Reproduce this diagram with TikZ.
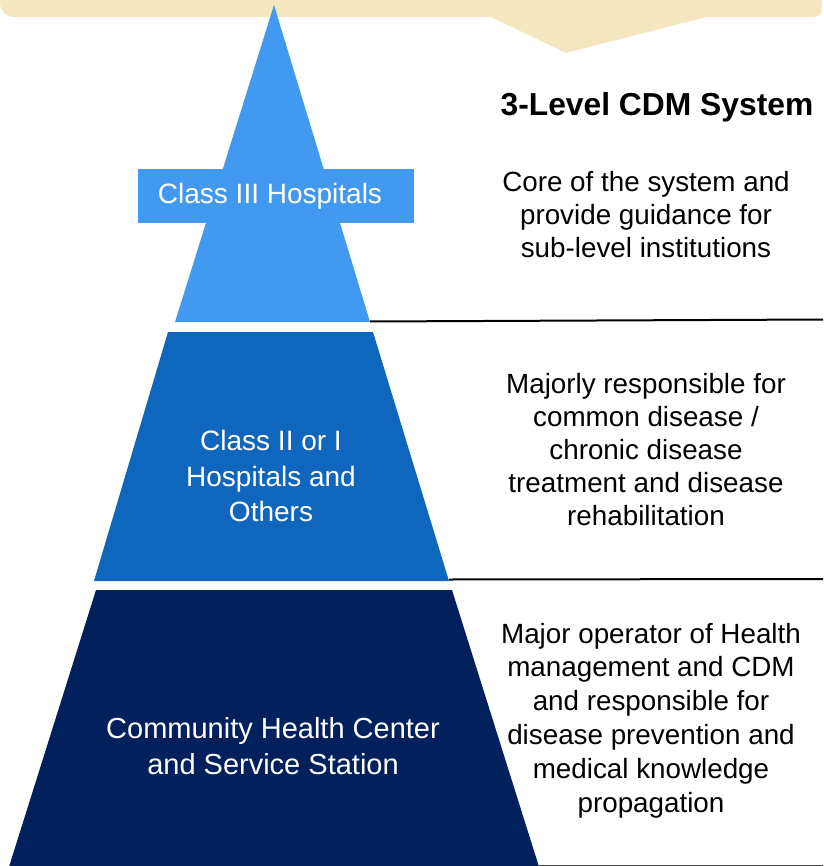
\documentclass[tikz,border=0pt]{standalone}
\usepackage{fontspec}
\setmainfont{Liberation Sans}
\definecolor{callout}{RGB}{245,230,191}
\definecolor{lvlA}{RGB}{66,153,240}
\definecolor{lvlB}{RGB}{15,103,189}
\definecolor{lvlC}{RGB}{2,32,92}
\tikzset{
  wtext/.style={text=white, align=center, inner sep=0pt, font=\fontsize{28}{35.5}\selectfont},
  btext/.style={text=black, align=center, inner sep=0pt, font=\fontsize{27.8}{33.2}\selectfont},
  sepline/.style={line width=2pt, black},
}
\begin{document}
\begin{tikzpicture}[x=1pt,y=-1pt]
\useasboundingbox (0,0) rectangle (823,866);
\clip (0,0) rectangle (823,866);
% callout at top
\fill[callout] (0,-40) -- (0,3) .. controls (0,11) and (6,17) .. (14,17)
  -- (491,17) -- (566,53) -- (706,17) -- (812,17)
  .. controls (818,17) and (822,14) .. (822,8) -- (822,-40) -- cycle;
% pyramid levels
\fill[lvlA] (274,5) -- (370,322) -- (175,322) -- cycle;
\fill[lvlA] (138,169) rectangle (414,223);
\fill[lvlB] (168,332) -- (373,332) -- (449,581) -- (94,581) -- cycle;
\fill[lvlC] (96,590) -- (452,590) -- (540,870) -- (8,870) -- cycle;
% separator lines
\draw[sepline] (370,321.5) -- (823,319.5);
\draw[sepline] (449,579.5) -- (823,579);
\draw[line width=2pt, black!70] (538,866) -- (823,866);
% labels in pyramid
\node[wtext] (l3) at (270,196) {Class III Hospitals};
\node[wtext] (l2) at (271,476) {Class II or I\\Hospitals and\\Others};
\node[wtext, font=\fontsize{29}{36}\selectfont] (l1) at (273,746.5) {Community Health Center\\and Service Station};
% right descriptions
\node[font=\bfseries\fontsize{31.8}{36}\selectfont, inner sep=0pt] (title) at (657,107) {3-Level CDM System};
\node[btext] (d3) at (646,214.5) {Core of the system and\\provide guidance for\\sub-level institutions};
\node[btext] (d2) at (646,449.5) {Majorly responsible for\\common disease /\\chronic disease\\treatment and disease\\rehabilitation};
\node[btext, font=\fontsize{27.8}{33.8}\selectfont] (d1) at (651,720.5) {Major operator of Health\\management and CDM\\and responsible for\\disease prevention and\\medical knowledge\\propagation};
\end{tikzpicture}
\end{document}
